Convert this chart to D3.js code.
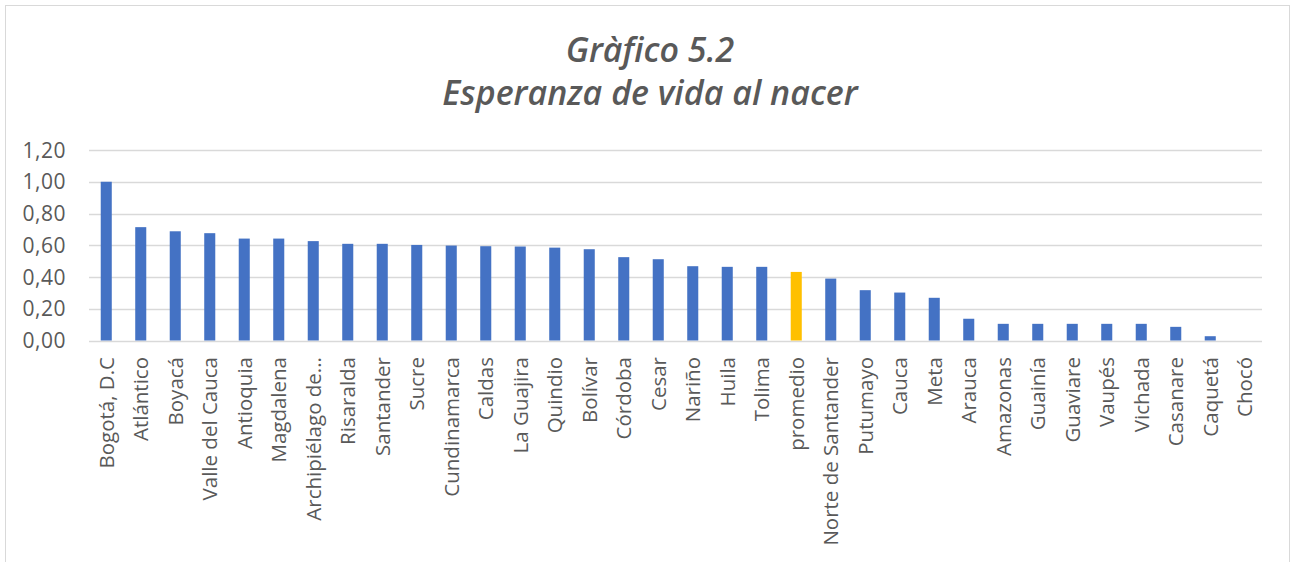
<!DOCTYPE html>
<html>
<head>
<meta charset="utf-8">
<script src="https://cdn.jsdelivr.net/npm/d3@7"></script>
<style>
  html, body { margin: 0; padding: 0; background: #fff; }
  svg { display: block; }
</style>
</head>
<body>
<svg id="chart" width="1296" height="562"></svg>
<script>
const categories = ["Bogotá, D.C","Atlántico","Boyacá","Valle del Cauca","Antioquia","Magdalena","Archipiélago de...","Risaralda","Santander","Sucre","Cundinamarca","Caldas","La Guajira","Quindio","Bolívar","Córdoba","Cesar","Nariño","Huila","Tolima","promedio","Norte de Santander","Putumayo","Cauca","Meta","Arauca","Amazonas","Guainía","Guaviare","Vaupés","Vichada","Casanare","Caquetá","Chocó"];
const values = [1.00,0.714,0.688,0.676,0.642,0.642,0.626,0.609,0.609,0.602,0.598,0.594,0.592,0.585,0.575,0.525,0.512,0.468,0.464,0.464,0.432,0.390,0.317,0.302,0.269,0.137,0.105,0.105,0.105,0.105,0.105,0.086,0.027,0.0];
const highlight = ["promedio"];
const yTicks = [0,0.2,0.4,0.6,0.8,1.0,1.2];
const titleLines = ["Gràfico 5.2","Esperanza de vida al nacer"];

const svg = d3.select("#chart");
const W = 1296, H = 562;
const plot = {left: 89, right: 1262, top: 150, bottom: 340.5};

// chart border
svg.append("rect").attr("x",5.5).attr("y",5.5).attr("width",1284).attr("height",H)
  .attr("fill","#fff").attr("stroke","#d9d9d9").attr("stroke-width",1);

const x = d3.scaleBand().domain(categories).range([plot.left, plot.right]).paddingInner(0.68).paddingOuter(0.34);
const y = d3.scaleLinear().domain([0,1.2]).range([plot.bottom, plot.top]);

// gridlines
svg.append("g").selectAll("line").data(yTicks).join("line")
  .attr("x1",plot.left).attr("x2",plot.right)
  .attr("y1",d=>Math.round(y(d))+0.5).attr("y2",d=>Math.round(y(d))+0.5)
  .attr("stroke","#d9d9d9").attr("stroke-width",1.3);

// y axis labels
const fmt = d => d3.format(".2f")(d).replace(".",",");
svg.append("g").selectAll("text").data(yTicks).join("text")
  .attr("x",66).attr("y",d=>y(d)).attr("dy","0.36em")
  .attr("text-anchor","end")
  .attr("font-family","'Open Sans', sans-serif").attr("font-size",21).attr("letter-spacing",0.5)
  .attr("fill","#595959").text(fmt);

// bars
svg.append("g").selectAll("rect").data(categories).join("rect")
  .attr("x",d=>x(d)).attr("width",x.bandwidth())
  .attr("y",(d,i)=>y(values[i])).attr("height",(d,i)=>y(0)-y(values[i]))
  .attr("fill",d=>highlight.includes(d) ? "#FFC000" : "#4472C4");

// x labels
svg.append("g").selectAll("text").data(categories).join("text")
  .attr("transform",d=>`translate(${x(d)+x.bandwidth()/2},357) rotate(-90)`)
  .attr("text-anchor","end").attr("dy","0.36em")
  .attr("font-family","'Open Sans', sans-serif").attr("font-size",20.5)
  .attr("fill","#595959").text(d=>d);

// title
svg.append("g").selectAll("text").data(titleLines).join("text")
  .attr("x",650).attr("y",(d,i)=>62+i*43)
  .attr("text-anchor","middle")
  .attr("font-family","'Open Sans', sans-serif").attr("font-style","italic").attr("font-weight",600)
  .attr("font-size",34).attr("fill","#595959").text(d=>d);
</script>
</body>
</html>
